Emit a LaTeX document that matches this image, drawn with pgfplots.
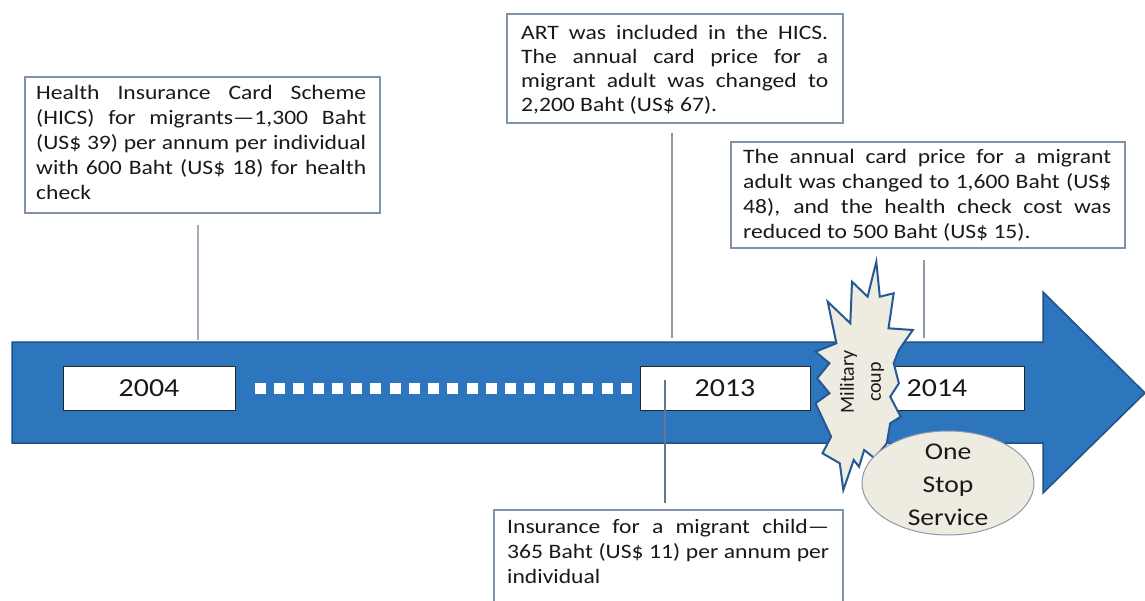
\documentclass[border=0pt]{standalone}
\usepackage{pgfplots}
\pgfplotsset{compat=1.18}
\usepackage{fontspec}
\setmainfont{Carlito}[FakeStretch=1.15]
\newfontfamily\plainfont{Carlito}
\definecolor{arrowblue}{RGB}{45,117,188}
\definecolor{arrowedge}{RGB}{30,82,135}
\definecolor{boxedge}{RGB}{128,146,172}
\definecolor{lineg}{RGB}{140,152,170}
\definecolor{linedark}{RGB}{100,118,145}
\definecolor{beige}{RGB}{238,236,225}
\definecolor{burstedge}{RGB}{38,88,148}
\definecolor{txt}{RGB}{25,25,25}
\hbadness=10000\relax
\hyphenpenalty=10000\relax
\tolerance=10000\relax
\tikzset{body/.style={anchor=base west, inner sep=0pt, align=justify, text=txt,
    font=\fontsize{20.5}{25}\selectfont}}
\begin{document}
\begin{tikzpicture}
\begin{axis}[
  width=1145pt, height=601pt, scale only axis,
  xmin=0, xmax=1145, ymin=0, ymax=601, y dir=reverse,
  hide axis, clip=false,
]
% connectors above the arrow
\addplot[draw=lineg!80, line width=1.4pt] coordinates {(198,225) (198,340)};
\addplot[draw=lineg, line width=1.4pt] coordinates {(672,133) (672,338)};
\addplot[draw=lineg, line width=1.4pt] coordinates {(924,260) (924,338)};
% main arrow
\addplot[fill=arrowblue, draw=arrowedge, line width=1.5pt, line join=miter]
  coordinates {(12,342) (1043,342) (1043,292) (1145,393) (1043,493) (1043,443) (12,443)} -- cycle;
% year boxes
\addplot[draw=black!85, line width=1pt, fill=white] coordinates {(63,366) (235,366) (235,410) (63,410)} -- cycle;
\addplot[draw=black!85, line width=1pt, fill=white] coordinates {(640,366) (810,366) (810,410) (640,410)} -- cycle;
\addplot[draw=black!85, line width=1pt, fill=white] coordinates {(845,366) (1024,366) (1024,410) (845,410)} -- cycle;
% dotted segment
\addplot[only marks, mark=square*, mark size=5pt, color=white] coordinates {
(260,388) (279.3,388) (298.5,388) (317.8,388) (337,388) (356.3,388) (375.6,388)
(394.8,388) (414.1,388) (433.3,388) (452.6,388) (471.9,388) (491.1,388) (510.4,388)
(529.6,388) (548.9,388) (568.2,388) (587.4,388) (606.7,388) (626,388)};
% connector below 2013
\addplot[draw=linedark, line width=1.4pt] coordinates {(665,380) (665,503)};
% text boxes
\addplot[draw=boxedge, line width=1.2pt, fill=white] coordinates {(25,77) (380,77) (380,213) (25,213)} -- cycle;
\addplot[draw=boxedge, line width=1.2pt, fill=white] coordinates {(507,14) (843,14) (843,123) (507,123)} -- cycle;
\addplot[draw=boxedge, line width=1.2pt, fill=white] coordinates {(731,142) (1125,142) (1125,248) (731,248)} -- cycle;
\addplot[draw=boxedge, line width=1.2pt, fill=white] coordinates {(494,606) (494,510) (843,510) (843,606)};
% burst
\addplot[fill=beige, draw=burstedge, line width=2pt, line join=miter, miter limit=20] coordinates {
(876.3,261.7) (879.8,296.7) (893.7,293.3) (888.5,328.3) (912.8,330) (898.9,350)
(893.7,363.3) (898.9,383.3) (890.2,396.7) (900.7,416.7) (890.2,423.3) (886.8,443.3)
(874.6,458.3) (864.2,450) (859,466.7) (853.7,460) (843.3,490) (839.8,463.3)
(822.5,453.3) (831.1,436.7) (815.5,403.3) (829.4,393.3) (817.2,378.3) (829.4,363.3)
(815.5,351.7) (836.4,343.3) (827.7,301.7) (850.3,323.3) (852,281.7) (867.6,296.7)} -- cycle;
% ellipse
\draw[fill=beige, draw=lineg, line width=1pt] (axis cs:948,483) ellipse [x radius=86pt, y radius=52pt];

% texts
\node[body, text width=330pt] at (axis cs:36,100) {Health Insurance Card Scheme\linebreak (HICS) for migrants—1,300 Baht\linebreak (US\$ 39) per annum per individual\linebreak with 600 Baht (US\$ 18) for health\linebreak check};
\node[body, text width=307pt, font=\fontsize{20.5}{24}\selectfont] at (axis cs:521,39.5) {ART was included in the HICS.\linebreak The annual card price for a\linebreak migrant adult was changed to\linebreak 2,200 Baht (US\$ 67).};
\node[body, text width=368pt] at (axis cs:743,164) {The annual card price for a migrant\linebreak adult was changed to 1,600 Baht (US\$\linebreak 48), and the health check cost was\linebreak reduced to 500 Baht (US\$ 15).};
\node[body, text width=322pt] at (axis cs:507,533) {Insurance for a migrant child—\linebreak 365 Baht (US\$ 11) per annum per\linebreak individual};

\node[text=txt, font=\fontsize{26}{30}\selectfont, inner sep=0pt] at (axis cs:149,388) {2004};
\node[text=txt, font=\fontsize{26}{30}\selectfont, inner sep=0pt] at (axis cs:725,388) {2013};
\node[text=txt, font=\fontsize{26}{30}\selectfont, inner sep=0pt] at (axis cs:937,388) {2014};
\node[text=txt, rotate=90, align=center, inner sep=0pt, font=\plainfont\fontsize{20}{27}\selectfont] at (axis cs:862,382) {Military\\coup};
\node[text=txt, align=center, inner sep=0pt, font=\fontsize{24}{33}\selectfont] at (axis cs:948,485) {One\\Stop\\Service};
\end{axis}
\pgfresetboundingbox
\path (current axis.south west) rectangle (current axis.north east);
\end{tikzpicture}
\end{document}
